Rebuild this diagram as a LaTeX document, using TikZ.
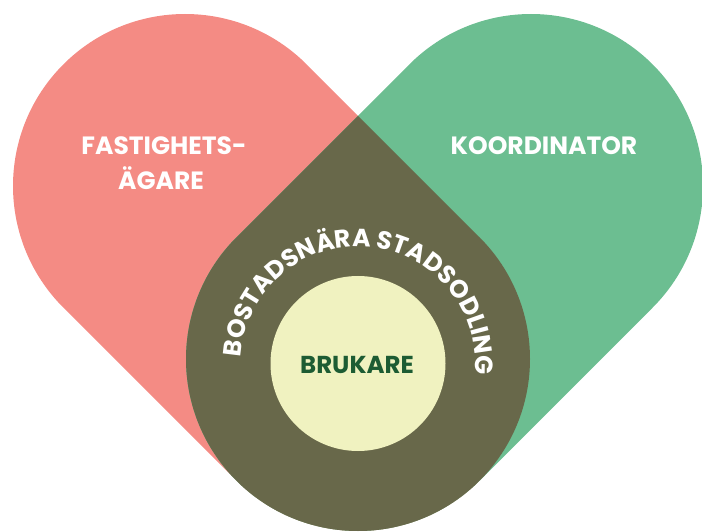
\documentclass[tikz,border=0pt]{standalone}
\usepackage{fontspec}
\setmainfont{Poppins}
\usetikzlibrary{decorations.text,calc}
\definecolor{pinkc}{HTML}{F48B84}
\definecolor{greenc}{HTML}{6CBE91}
\definecolor{olivec}{HTML}{68684A}
\definecolor{creamc}{HTML}{F0F2C0}
\definecolor{darkgreenc}{HTML}{1D5C33}
\begin{document}
\begin{tikzpicture}[x=1pt,y=1pt,
  lbl/.style={text=white,font=\bfseries\fontsize{25}{25}\selectfont,anchor=base,inner sep=0pt},
  capsule/.style={line width=344pt,line cap=round}]
\useasboundingbox (0,0) rectangle (702,531);
\clip (0,0) rectangle (702,531);
\coordinate (P1) at (185,345);
\coordinate (G1) at (531,345);
\coordinate (C) at (358,172);
\draw[capsule,pinkc] (P1) -- (C);
\draw[capsule,greenc] (G1) -- (C);
\coordinate (T) at (358,415.2);
\fill[olivec] (T) -- ($(C)+(45:172)$) arc[start angle=45,end angle=-225,radius=172] -- cycle;
\coordinate (Y) at (358,167.5);
\fill[creamc] (Y) circle[radius=87.5];
\path[decorate,decoration={text along path,text align=fit to path,text color=white,
  text={|\bfseries\fontsize{25}{25}\selectfont|BOSTADSN{Ä}RA STADSODLING}}]
  ($(Y)+(177:117)$) arc[start angle=177,end angle=-2,radius=117];
\node[lbl] (fast) at (164,376) {FASTIGHETS-};
\node[lbl] (agare) at (161,341) {ÄGARE};
\node[lbl] (koord) at (544,376) {KOORDINATOR};
\node[lbl,text=darkgreenc,font=\bfseries\fontsize{24.5}{24.5}\selectfont] (bruk) at (357,158) {BRUKARE};
\end{tikzpicture}
\end{document}
